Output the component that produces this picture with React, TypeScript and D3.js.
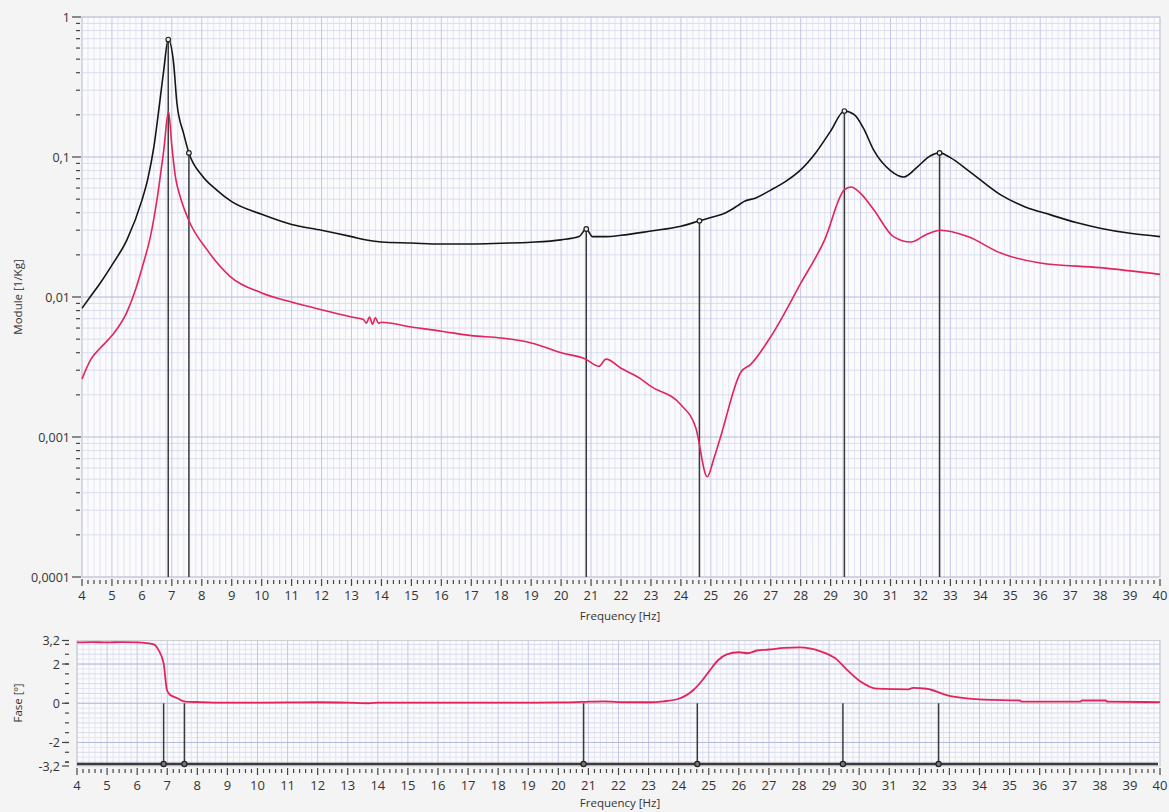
import React, { useEffect, useRef } from 'react'
import * as d3 from 'd3'

// magnitude, black curve
const freqBlack = [4.0, 4.3, 4.6, 5.0, 5.5, 6.0, 6.2, 6.4, 6.6, 6.73, 6.88, 7.06, 7.17, 7.39, 7.57, 8.0, 8.5, 9.0, 10.0, 11.0, 12.0, 13.0, 13.5, 14.0, 15.0, 16.0, 17.0, 18.0, 19.0, 20.0, 20.6, 20.84, 21.05, 21.5, 22.0, 23.0, 24.0, 24.62, 25.0, 25.5, 25.9, 26.1, 26.5, 27.0, 27.5, 28.0, 28.5, 29.0, 29.46, 29.8, 30.1, 30.44, 31.0, 31.44, 31.9, 32.3, 32.64, 33.0, 33.6, 34.68, 35.5, 36.35, 37.2, 38.0, 39.0, 40.0]
const modBlack = [0.0083, 0.0102, 0.0125, 0.0169, 0.0256, 0.049, 0.07, 0.118, 0.25, 0.418, 0.69, 0.467, 0.242, 0.148, 0.107, 0.074, 0.058, 0.048, 0.039, 0.033, 0.03, 0.027, 0.0255, 0.0247, 0.0243, 0.0239, 0.0239, 0.0242, 0.0246, 0.0256, 0.027, 0.0306, 0.027, 0.027, 0.0276, 0.0296, 0.032, 0.035, 0.037, 0.04, 0.045, 0.048, 0.051, 0.058, 0.067, 0.081, 0.107, 0.153, 0.213, 0.2, 0.16, 0.112, 0.08, 0.072, 0.085, 0.101, 0.107, 0.099, 0.08, 0.0536, 0.044, 0.0386, 0.034, 0.031, 0.0285, 0.027]

// magnitude, red curve
const freqRed = [4.0, 4.3, 4.6, 5.0, 5.5, 5.8, 6.0, 6.3, 6.5, 6.73, 6.89, 7.0, 7.12, 7.28, 7.56, 8.18, 8.95, 10, 11, 12, 13, 13.4, 13.5, 13.6, 13.7, 13.8, 13.9, 14, 15, 16, 17, 18, 19, 20, 20.82, 21.26, 21.5, 22.0, 22.66, 23, 24, 24.5, 24.88, 25.1, 25.33, 26.0, 26.33, 27.0, 28.0, 28.8, 29.45, 29.68, 30.0, 30.44, 31.1, 31.68, 32.2, 32.68, 33.58, 34.68, 36, 38, 40]
const modRed = [0.0026, 0.0036, 0.0043, 0.0053, 0.0078, 0.0115, 0.016, 0.028, 0.049, 0.112, 0.211, 0.12, 0.072, 0.052, 0.0355, 0.0217, 0.014, 0.0107, 0.0092, 0.0081, 0.0072, 0.0069, 0.0065, 0.0072, 0.0064, 0.0071, 0.0065, 0.0066, 0.0061, 0.0057, 0.0053, 0.0051, 0.0047, 0.004, 0.0036, 0.0032, 0.0036, 0.0031, 0.0026, 0.0023, 0.0017, 0.00116, 0.00052, 0.0007, 0.00101, 0.0029, 0.0033, 0.0052, 0.0125, 0.0256, 0.058, 0.061, 0.055, 0.042, 0.027, 0.0247, 0.028, 0.03, 0.027, 0.0206, 0.0175, 0.0162, 0.0145]

// phase
const freqPhase = [4.0, 4.5, 5.0, 5.5, 6.0, 6.55, 6.71, 6.88, 6.99, 7.1, 7.32, 7.6, 8.1, 9, 11, 12, 13, 13.7, 14, 16, 18, 20, 20.8, 21.5, 22, 23, 23.5, 24, 24.5, 24.8, 25, 25.3, 25.6, 26, 26.3, 26.6, 27, 27.5, 28.03, 28.69, 29.25, 29.58, 30.02, 30.58, 31.63, 31.79, 32.24, 32.9, 33.57, 34.12, 35.34, 35.4, 37.35, 37.4, 38.2, 38.25, 40]
const phase = [3.1, 3.12, 3.1, 3.12, 3.1, 3.0, 2.71, 2.03, 0.68, 0.42, 0.27, 0.08, 0.06, 0.03, 0.04, 0.05, 0.03, 0.0, 0.03, 0.03, 0.03, 0.04, 0.07, 0.1, 0.06, 0.05, 0.1, 0.23, 0.69, 1.2, 1.6, 2.18, 2.49, 2.6, 2.55, 2.69, 2.74, 2.82, 2.85, 2.66, 2.24, 1.73, 1.14, 0.75, 0.71, 0.78, 0.74, 0.42, 0.25, 0.18, 0.14, 0.08, 0.08, 0.14, 0.14, 0.08, 0.06]

// cursors
const markerFreqs = [6.88, 7.57, 20.84, 24.62, 29.46, 32.64]
const markerVals = [0.69, 0.107, 0.0306, 0.035, 0.213, 0.107]

const magTicks = [1, 0.1, 0.01, 0.001, 0.0001]
const magLabels = ['1', '0,1', '0,01', '0,001', '0,0001']
const phaseTicks = [3.2, 2, 0, -2, -3.2]
const phaseLabels = ['3,2', '2', '0', '-2', '-3,2']

const FONT = '"Open Sans", "Noto Sans", sans-serif'

export default function App() {
  const ref = useRef<SVGSVGElement>(null)

  useEffect(() => {
    document.body.style.margin = '0'
    const svg = d3.select(ref.current)
    svg.selectAll('*').remove()

    const x = d3.scaleLinear().domain([4, 40]).range([82, 1160])
    const y = d3.scaleLog().domain([0.0001, 1]).range([577, 17])
    const xp = d3.scaleLinear().domain([4, 40]).range([77, 1160])
    const yp = d3.scaleLinear().domain([-3.2, 3.2]).range([766, 640.5])

    const ints = d3.range(4, 41)
    const fifths = d3.range(4, 40.001, 0.2).filter(v => Math.abs(v - Math.round(v)) > 0.01)

    // ---------- magnitude panel ----------
    const top = svg.append('g')
    top.append('rect')
      .attr('x', x(4)).attr('y', y(1))
      .attr('width', x(40) - x(4)).attr('height', y(0.0001) - y(1))
      .attr('fill', '#fbfbfd')

    const logMinor: number[] = []
    for (let e = -4; e < 0; e++) for (let k = 2; k <= 9; k++) logMinor.push(k * Math.pow(10, e))

    top.append('g').selectAll('line').data(fifths).join('line')
      .attr('x1', d => x(d)).attr('x2', d => x(d))
      .attr('y1', y(1)).attr('y2', y(0.0001))
      .attr('stroke', '#e2e5f2').attr('stroke-width', 1)
    top.append('g').selectAll('line').data(logMinor).join('line')
      .attr('x1', x(4)).attr('x2', x(40))
      .attr('y1', d => y(d)).attr('y2', d => y(d))
      .attr('stroke', '#d9ddef').attr('stroke-width', 1)
    top.append('g').selectAll('line').data(ints).join('line')
      .attr('x1', d => x(d)).attr('x2', d => x(d))
      .attr('y1', y(1)).attr('y2', y(0.0001))
      .attr('stroke', '#c3c8e6').attr('stroke-width', 1)
    top.append('g').selectAll('line').data(magTicks).join('line')
      .attr('x1', x(4)).attr('x2', x(40))
      .attr('y1', d => y(d)).attr('y2', d => y(d))
      .attr('stroke', '#b4bade').attr('stroke-width', 1)
    top.append('rect')
      .attr('x', x(4)).attr('y', y(1))
      .attr('width', x(40) - x(4)).attr('height', y(0.0001) - y(1))
      .attr('fill', 'none').attr('stroke', '#cfcfd6')

    // cursors
    top.append('g').selectAll('line').data(markerFreqs).join('line')
      .attr('x1', d => x(d)).attr('x2', d => x(d))
      .attr('y1', (d, i) => y(markerVals[i])).attr('y2', y(0.0001))
      .attr('stroke', '#3a3a3a').attr('stroke-width', 1.5)

    const lineTop = (fs: number[], vs: number[]) => d3.line<number>()
      .x((d, i) => x(fs[i]))
      .y(d => y(d))
      .curve(d3.curveMonotoneX)(vs)

    top.append('path').attr('d', lineTop(freqRed, modRed))
      .attr('fill', 'none').attr('stroke', '#e3245a').attr('stroke-width', 1.6)
    top.append('path').attr('d', lineTop(freqBlack, modBlack))
      .attr('fill', 'none').attr('stroke', '#151515').attr('stroke-width', 1.6)

    top.append('g').selectAll('circle').data(markerFreqs).join('circle')
      .attr('cx', d => x(d)).attr('cy', (d, i) => y(markerVals[i]))
      .attr('r', 2.3).attr('fill', '#eeeeee').attr('stroke', '#222').attr('stroke-width', 1.2)

    // left axis
    top.append('g').selectAll('line').data(logMinor).join('line')
      .attr('x1', 76).attr('x2', 80)
      .attr('y1', d => y(d)).attr('y2', d => y(d))
      .attr('stroke', '#444').attr('stroke-width', 1.2)
    top.append('g').selectAll('line').data(magTicks).join('line')
      .attr('x1', 72).attr('x2', 81)
      .attr('y1', d => y(d)).attr('y2', d => y(d))
      .attr('stroke', '#444').attr('stroke-width', 1.2)
    top.append('g').selectAll('text').data(magTicks).join('text')
      .attr('x', 70).attr('y', d => y(d) + 4.5)
      .attr('text-anchor', 'end')
      .attr('font-family', FONT).attr('font-size', 12.5).attr('fill', '#333')
      .text((d, i) => magLabels[i])

    // bottom axis
    top.append('g').selectAll('line').data(fifths).join('line')
      .attr('x1', d => x(d)).attr('x2', d => x(d))
      .attr('y1', 580).attr('y2', 584)
      .attr('stroke', '#444').attr('stroke-width', 1.2)
    top.append('g').selectAll('line').data(ints).join('line')
      .attr('x1', d => x(d)).attr('x2', d => x(d))
      .attr('y1', 579).attr('y2', 586)
      .attr('stroke', '#444').attr('stroke-width', 1.2)
    top.append('g').selectAll('text').data(ints).join('text')
      .attr('x', d => x(d)).attr('y', 600)
      .attr('text-anchor', 'middle')
      .attr('font-family', FONT).attr('font-size', 13).attr('fill', '#333')
      .text(d => String(d))

    svg.append('text').attr('x', 620).attr('y', 620)
      .attr('text-anchor', 'middle').attr('font-family', FONT).attr('font-size', 11.5).attr('fill', '#333')
      .text('Frequency [Hz]')
    svg.append('text').attr('transform', 'translate(22,297) rotate(-90)')
      .attr('text-anchor', 'middle').attr('font-family', FONT).attr('font-size', 11.5).attr('fill', '#333')
      .text('Module [1/Kg]')

    // ---------- phase panel ----------
    const bot = svg.append('g')
    bot.append('rect')
      .attr('x', xp(4)).attr('y', yp(3.2))
      .attr('width', xp(40) - xp(4)).attr('height', yp(-3.2) - yp(3.2))
      .attr('fill', '#fbfbfd')

    const halfSteps = d3.range(-3, 3.001, 0.5)
    const quarterSteps = d3.range(-3.0, 3.001, 0.25).filter(v => Math.abs(v * 2 - Math.round(v * 2)) > 0.01)

    bot.append('g').selectAll('line').data(fifths).join('line')
      .attr('x1', d => xp(d)).attr('x2', d => xp(d))
      .attr('y1', yp(3.2)).attr('y2', yp(-3.2))
      .attr('stroke', '#e2e5f2')
    bot.append('g').selectAll('line').data(quarterSteps).join('line')
      .attr('x1', xp(4)).attr('x2', xp(40))
      .attr('y1', d => yp(d)).attr('y2', d => yp(d))
      .attr('stroke', '#e2e5f2')
    bot.append('g').selectAll('line').data(halfSteps).join('line')
      .attr('x1', xp(4)).attr('x2', xp(40))
      .attr('y1', d => yp(d)).attr('y2', d => yp(d))
      .attr('stroke', '#d6daee')
    bot.append('g').selectAll('line').data(ints).join('line')
      .attr('x1', d => xp(d)).attr('x2', d => xp(d))
      .attr('y1', yp(3.2)).attr('y2', yp(-3.2))
      .attr('stroke', '#c3c8e6')
    bot.append('g').selectAll('line').data([2, 0, -2]).join('line')
      .attr('x1', xp(4)).attr('x2', xp(40))
      .attr('y1', d => yp(d)).attr('y2', d => yp(d))
      .attr('stroke', '#b4bade')
    bot.append('rect')
      .attr('x', xp(4)).attr('y', yp(3.2))
      .attr('width', xp(40) - xp(4)).attr('height', yp(-3.2) - yp(3.2))
      .attr('fill', 'none').attr('stroke', '#cfcfd6')

    // baseline of cursors
    bot.append('line')
      .attr('x1', xp(4)).attr('x2', xp(40) - 2)
      .attr('y1', yp(-3.1)).attr('y2', yp(-3.1))
      .attr('stroke', '#3a3a3a').attr('stroke-width', 2.6)
    bot.append('g').selectAll('line').data(markerFreqs).join('line')
      .attr('x1', d => xp(d)).attr('x2', d => xp(d))
      .attr('y1', yp(0)).attr('y2', yp(-3.1))
      .attr('stroke', '#3a3a3a').attr('stroke-width', 1.5)
    bot.append('g').selectAll('circle').data(markerFreqs).join('circle')
      .attr('cx', d => xp(d)).attr('cy', yp(-3.1))
      .attr('r', 2.6).attr('fill', '#777').attr('stroke', '#222').attr('stroke-width', 1.2)

    const phaseLine = d3.line<number>()
      .x((d, i) => xp(freqPhase[i]))
      .y(d => yp(d))
      .curve(d3.curveMonotoneX)
    bot.append('path').attr('d', phaseLine(phase))
      .attr('fill', 'none').attr('stroke', '#e3245a').attr('stroke-width', 1.8)

    // phase left axis
    bot.append('g').selectAll('line').data(halfSteps.concat([3, -3])).join('line')
      .attr('x1', 65).attr('x2', 69)
      .attr('y1', d => yp(d)).attr('y2', d => yp(d))
      .attr('stroke', '#444').attr('stroke-width', 1.2)
    bot.append('g').selectAll('line').data(phaseTicks).join('line')
      .attr('x1', 62).attr('x2', 69)
      .attr('y1', d => yp(d)).attr('y2', d => yp(d))
      .attr('stroke', '#444').attr('stroke-width', 1.2)
    bot.append('g').selectAll('text').data(phaseTicks).join('text')
      .attr('x', 60).attr('y', d => yp(d) + 4.5)
      .attr('text-anchor', 'end')
      .attr('font-family', FONT).attr('font-size', 12.5).attr('fill', '#333')
      .text((d, i) => phaseLabels[i])

    // phase bottom axis
    bot.append('g').selectAll('line').data(fifths).join('line')
      .attr('x1', d => xp(d)).attr('x2', d => xp(d))
      .attr('y1', 769).attr('y2', 773)
      .attr('stroke', '#444').attr('stroke-width', 1.2)
    bot.append('g').selectAll('line').data(ints).join('line')
      .attr('x1', d => xp(d)).attr('x2', d => xp(d))
      .attr('y1', 768).attr('y2', 775)
      .attr('stroke', '#444').attr('stroke-width', 1.2)
    bot.append('g').selectAll('text').data(ints).join('text')
      .attr('x', d => xp(d)).attr('y', 790)
      .attr('text-anchor', 'middle')
      .attr('font-family', FONT).attr('font-size', 13).attr('fill', '#333')
      .text(d => String(d))

    svg.append('text').attr('x', 620).attr('y', 807)
      .attr('text-anchor', 'middle').attr('font-family', FONT).attr('font-size', 11.5).attr('fill', '#333')
      .text('Frequency [Hz]')
    svg.append('text').attr('transform', 'translate(22,703) rotate(-90)')
      .attr('text-anchor', 'middle').attr('font-family', FONT).attr('font-size', 11.5).attr('fill', '#333')
      .text('Fase [º]')
  }, [])

  return (
    <svg ref={ref} width={1169} height={812} style={{ display: 'block', background: '#f4f4f5' }} />
  )
}
